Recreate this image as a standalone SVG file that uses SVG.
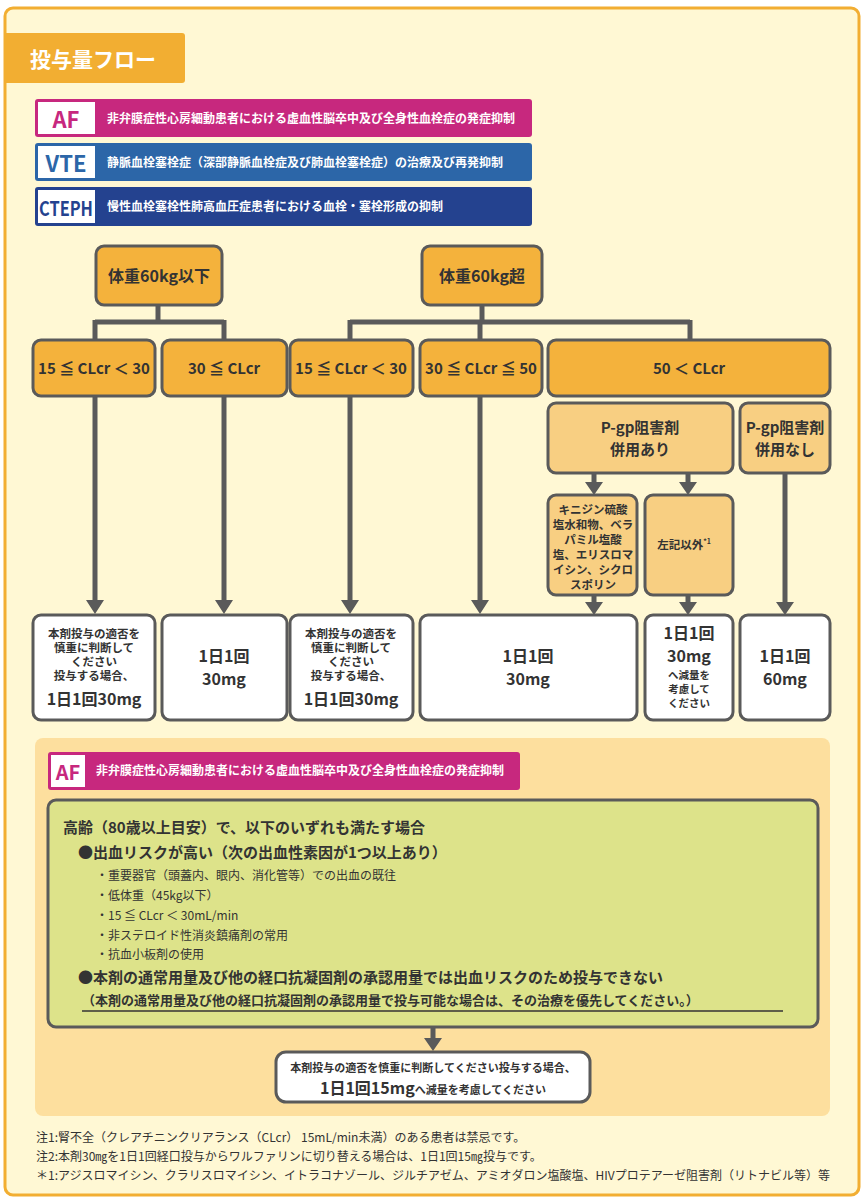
<svg xmlns="http://www.w3.org/2000/svg" width="865" height="1200" viewBox="0 0 865 1200">
<defs>
<style>
text{font-family:"Noto Sans CJK JP","Noto Sans",sans-serif;font-weight:bold;fill:#333}
.b1{fill:#F4B23C;stroke:#5a5a5a;stroke-width:3}
.b2{fill:#F8CF82;stroke:#5a5a5a;stroke-width:3}
.w{fill:#fff;stroke:#5a5a5a;stroke-width:3}
.c{stroke:#5a5a5a;stroke-width:5;fill:none}
.hd{fill:#fff;font-size:12px}
.m{text-anchor:middle}
.fn{font-weight:normal;font-size:12px;fill:#333}
.ah{fill:#5a5a5a}
</style>
</defs>
<rect x="0" y="0" width="865" height="1200" fill="#fff"/>
<rect x="5" y="8" width="854" height="1187" rx="8" fill="#FFF8D4" stroke="#F2AE32" stroke-width="3"/>
<g id="title"><path d="M5,33 H182 a3,3 0 0 1 3,3 V80 a3,3 0 0 1 -3,3 H5 z" fill="#F2AE32"/><text x="30" y="67" font-size="21" style="fill:#fff">投与量フロー</text></g>
<g id="hdr-af"><rect x="35" y="99" width="497" height="38" rx="3" fill="#C7287E"/><rect x="38" y="102" width="57" height="32" fill="#fff"/><text x="66" y="128" class="m" font-size="22" style="fill:#C7287E">AF</text><text x="107" y="123" class="hd">非弁膜症性心房細動患者における虚血性脳卒中及び全身性血栓症の発症抑制</text></g>
<g id="hdr-vte"><rect x="35" y="143" width="497" height="38" rx="3" fill="#2C66A8"/><rect x="38" y="146" width="57" height="32" fill="#fff"/><text x="66" y="172" class="m" font-size="22" style="fill:#2C66A8">VTE</text><text x="107" y="167" class="hd">静脈血栓塞栓症（深部静脈血栓症及び肺血栓塞栓症）の治療及び再発抑制</text></g>
<g id="hdr-cteph"><rect x="35" y="187" width="497" height="39" rx="3" fill="#24428F"/><rect x="38" y="190" width="57" height="33" fill="#fff"/><text x="66" y="216" class="m" font-size="20" style="fill:#24428F" textLength="54" lengthAdjust="spacingAndGlyphs">CTEPH</text><text x="107" y="211" class="hd">慢性血栓塞栓性肺高血圧症患者における血栓・塞栓形成の抑制</text></g>

<g id="bottom">
<rect x="35" y="738" width="795" height="378" rx="8" fill="#FDDF9E"/>
<rect x="48" y="752" width="472" height="38" rx="3" fill="#C7287E"/><rect x="51" y="755" width="34" height="32" fill="#fff"/><text x="68" y="780" class="m" font-size="20" style="fill:#C7287E">AF</text><text x="96" y="775" class="hd" font-size="11">非弁膜症性心房細動患者における虚血性脳卒中及び全身性血栓症の発症抑制</text>
</g>

<g id="connectors">
<path class="c" d="M158,305 V322 M95,322 H224 M95,320 V340 M224,320 V340"/>
<path class="c" d="M482,305 V322 M350,322 H690 M350,320 V340 M480,320 V340 M690,320 V340"/>
<path class="c" d="M95,396 V602 M224,396 V602 M350,396 V602 M480,396 V602 M594,473 V484 M688,473 V484 M594,595 V604 M688,595 V604 M785,473 V604 M433,1027 V1040"/>
<path class="ah" d="M86,600 H104 L95,614 z M215,600 H233 L224,614 z M341,600 H359 L350,614 z M471,600 H489 L480,614 z M585,482 H603 L594,495 z M679,482 H697 L688,495 z M585,602 H603 L594,615 z M679,602 H697 L688,615 z M776,602 H794 L785,615 z M424,1038 H442 L433,1051 z"/>
</g>

<g id="n-w1"><rect class="b1" x="96" y="246" width="126" height="59" rx="8"/><text x="159" y="282" class="m" font-size="16">体重60kg以下</text></g>
<g id="n-w2"><rect class="b1" x="422" y="246" width="120" height="59" rx="8"/><text x="482" y="282" class="m" font-size="16">体重60kg超</text></g>
<g id="n-a1"><rect class="b1" x="33" y="340" width="122" height="56" rx="8"/><text x="94" y="374" class="m" font-size="15">15 ≦ CLcr ＜ 30</text></g>
<g id="n-a2"><rect class="b1" x="162" y="340" width="125" height="56" rx="8"/><text x="224" y="374" class="m" font-size="15">30 ≦ CLcr</text></g>
<g id="n-a3"><rect class="b1" x="290" y="340" width="123" height="56" rx="8"/><text x="351" y="374" class="m" font-size="15">15 ≦ CLcr ＜ 30</text></g>
<g id="n-a4"><rect class="b1" x="420" y="340" width="122" height="56" rx="8"/><text x="481" y="374" class="m" font-size="15">30 ≦ CLcr ≦ 50</text></g>
<g id="n-a5"><rect class="b1" x="548" y="340" width="282" height="56" rx="8"/><text x="689" y="374" class="m" font-size="15">50 ＜ CLcr</text></g>
<g id="n-p1"><rect class="b2" x="548" y="403" width="185" height="70" rx="8"/><text x="640" y="433" class="m" font-size="15">P-gp阻害剤</text><text x="640" y="455" class="m" font-size="15">併用あり</text></g>
<g id="n-p2"><rect class="b2" x="740" y="403" width="90" height="70" rx="8"/><text x="785" y="433" class="m" font-size="15">P-gp阻害剤</text><text x="785" y="455" class="m" font-size="15">併用なし</text></g>
<g id="n-s1"><rect class="b2" x="548" y="495" width="89" height="100" rx="8"/>
<text x="593" y="514" class="m" font-size="11.5">キニジン硫酸</text><text x="593" y="529" class="m" font-size="11.5">塩水和物、ベラ</text><text x="593" y="544" class="m" font-size="11.5">パミル塩酸</text><text x="593" y="559" class="m" font-size="11.5">塩、エリスロマ</text><text x="593" y="574" class="m" font-size="11.5">イシン、シクロ</text><text x="593" y="589" class="m" font-size="11.5">スポリン</text></g>
<g id="n-s2"><rect class="b2" x="645" y="495" width="88" height="100" rx="8"/><text x="684" y="549" class="m" font-size="11.5">左記以外<tspan font-size="7" dy="-5">*1</tspan></text></g>
<g id="n-r1"><rect class="w" x="33" y="615" width="122" height="105" rx="8"/><text x="94" y="638" class="m" font-size="11.5">本剤投与の適否を</text><text x="94" y="652" class="m" font-size="11.5">慎重に判断して</text><text x="94" y="666" class="m" font-size="11.5">ください</text><text x="94" y="680" class="m" font-size="11.5">投与する場合、</text><text x="94" y="705" class="m" font-size="16">1日1回30mg</text></g>
<g id="n-r2"><rect class="w" x="162" y="615" width="125" height="105" rx="8"/><text x="224" y="662" class="m" font-size="16">1日1回</text><text x="224" y="685" class="m" font-size="16">30mg</text></g>
<g id="n-r3"><rect class="w" x="290" y="615" width="123" height="105" rx="8"/><text x="351" y="638" class="m" font-size="11.5">本剤投与の適否を</text><text x="351" y="652" class="m" font-size="11.5">慎重に判断して</text><text x="351" y="666" class="m" font-size="11.5">ください</text><text x="351" y="680" class="m" font-size="11.5">投与する場合、</text><text x="351" y="705" class="m" font-size="16">1日1回30mg</text></g>
<g id="n-r4"><rect class="w" x="420" y="615" width="217" height="105" rx="8"/><text x="528" y="662" class="m" font-size="16">1日1回</text><text x="528" y="685" class="m" font-size="16">30mg</text></g>
<g id="n-r5"><rect class="w" x="645" y="615" width="88" height="105" rx="8"/><text x="689" y="639" class="m" font-size="16">1日1回</text><text x="689" y="662" class="m" font-size="16">30mg</text><text x="689" y="679" class="m" font-size="10.5">へ減量を</text><text x="689" y="693" class="m" font-size="10.5">考慮して</text><text x="689" y="707" class="m" font-size="10.5">ください</text></g>
<g id="n-r6"><rect class="w" x="740" y="615" width="90" height="105" rx="8"/><text x="785" y="662" class="m" font-size="16">1日1回</text><text x="785" y="685" class="m" font-size="16">60mg</text></g>

<g id="n-cond"><rect x="48" y="800" width="770" height="227" rx="8" fill="#DDE38A" stroke="#5a5a5a" stroke-width="3"/>
<text x="63" y="833" font-size="15">高齢（80歳以上目安）で、以下のいずれも満たす場合</text>
<text x="78" y="858" font-size="15">●出血リスクが高い（次の出血性素因が1つ以上あり）</text>
<text x="96" y="880" font-size="12" style="font-weight:normal">・重要器官（頭蓋内、眼内、消化管等）での出血の既往</text><text x="96" y="900" font-size="12" style="font-weight:normal">・低体重（45kg以下）</text><text x="96" y="920" font-size="12" style="font-weight:normal">・15 ≦ CLcr ＜ 30mL/min</text><text x="96" y="940" font-size="12" style="font-weight:normal">・非ステロイド性消炎鎮痛剤の常用</text><text x="96" y="959" font-size="12" style="font-weight:normal">・抗血小板剤の使用</text>
<text x="78" y="983" font-size="15">●本剤の通常用量及び他の経口抗凝固剤の承認用量では出血リスクのため投与できない</text>
<text x="82" y="1005" font-size="13">（本剤の通常用量及び他の経口抗凝固剤の承認用量で投与可能な場合は、その治療を優先してください。）</text>
<line x1="82" y1="1011" x2="783" y2="1011" stroke="#333" stroke-width="1.5"/></g>
<g id="n-final"><rect class="w" x="276" y="1052" width="314" height="50" rx="10"/><text x="433" y="1072" class="m" font-size="11">本剤投与の適否を慎重に判断してください投与する場合、</text><text x="433" y="1094" class="m" font-size="16">1日1回15mg<tspan font-size="11">へ減量を考慮してください</tspan></text></g>
<g id="notes"><text x="36" y="1142" class="fn">注1:腎不全（クレアチニンクリアランス（CLcr） 15mL/min未満）のある患者は禁忌です。</text><text x="36" y="1161" class="fn">注2:本剤30㎎を1日1回経口投与からワルファリンに切り替える場合は、1日1回15㎎投与です。</text><text x="36" y="1180" class="fn">＊1:アジスロマイシン、クラリスロマイシン、イトラコナゾール、ジルチアゼム、アミオダロン塩酸塩、HIVプロテアーゼ阻害剤（リトナビル等）等</text></g>
</svg>
